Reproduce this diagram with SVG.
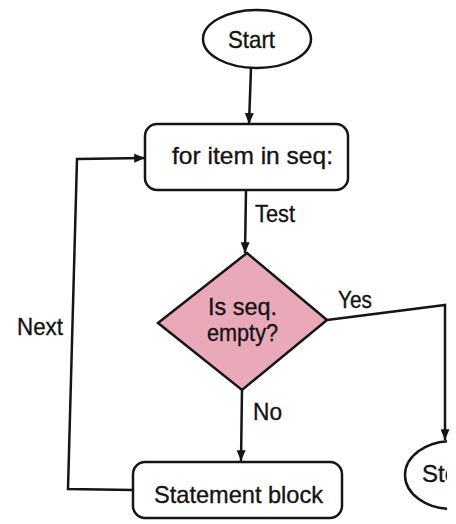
<svg xmlns="http://www.w3.org/2000/svg" width="456" height="524" viewBox="0 0 456 524">
<style>
.s{fill:#fff;stroke:#151515;stroke-width:2.5}
.t{font-family:"Liberation Sans",Arial,sans-serif;font-size:24px;fill:#141414;stroke:#141414;stroke-width:0.35}
.c{fill:none;stroke:#151515;stroke-width:2.5}
</style>
<defs>
<marker id="a" viewBox="0 0 12 10" refX="12" refY="5" markerWidth="12" markerHeight="9" markerUnits="userSpaceOnUse" orient="auto">
<path d="M0,0 L12,5 L0,10 z" fill="#151515"/>
</marker>
<clipPath id="edge"><rect x="0" y="0" width="447" height="524"/></clipPath>
</defs>
<rect width="456" height="524" fill="#fff"/>
<g id="connectors">
<path class="c" d="M251,68 L249,124" marker-end="url(#a)"/>
<path class="c" d="M246,190 L245,253" marker-end="url(#a)"/>
<path class="c" d="M242,390 L241,461" marker-end="url(#a)"/>
<path class="c" d="M327,320 L445,305 L445,440" marker-end="url(#a)"/>
<path class="c" d="M133,490 L68,489 L77,159 L145,158" marker-end="url(#a)"/>
</g>
<g id="start">
<ellipse class="s" cx="257" cy="39" rx="54" ry="29"/>
<text class="t" x="228" y="48" font-size="27" textLength="47" lengthAdjust="spacingAndGlyphs">Start</text>
</g>
<g id="for">
<rect class="s" x="145" y="124" width="203" height="66" rx="12"/>
<text class="t" x="172" y="164" textLength="161" lengthAdjust="spacingAndGlyphs">for item in seq:</text>
</g>
<g id="decision">
<polygon points="247,253 327,320 242,390 158,323" fill="#eaa9b9" stroke="#151515" stroke-width="2.5"/>
<text class="t" x="208" y="315" font-size="20" textLength="69" lengthAdjust="spacingAndGlyphs">Is seq.</text>
<text class="t" x="207" y="341" font-size="20" textLength="71" lengthAdjust="spacingAndGlyphs">empty?</text>
</g>
<g id="statement">
<rect class="s" x="133" y="462" width="209" height="56" rx="12"/>
<text class="t" x="154" y="503" font-size="25" textLength="169" lengthAdjust="spacingAndGlyphs">Statement block</text>
</g>
<g id="stop" clip-path="url(#edge)">
<ellipse class="s" cx="452" cy="475" rx="47" ry="34"/>
<text class="t" x="422" y="482" font-size="21">Stop</text>
</g>
<g id="labels">
<text class="t" x="255" y="222" textLength="40" lengthAdjust="spacingAndGlyphs">Test</text>
<text class="t" x="338" y="308" font-size="21" textLength="34" lengthAdjust="spacingAndGlyphs">Yes</text>
<text class="t" x="253" y="420" font-size="21" textLength="29" lengthAdjust="spacingAndGlyphs">No</text>
<text class="t" x="17" y="335" font-size="25" textLength="46" lengthAdjust="spacingAndGlyphs">Next</text>
</g>
</svg>
